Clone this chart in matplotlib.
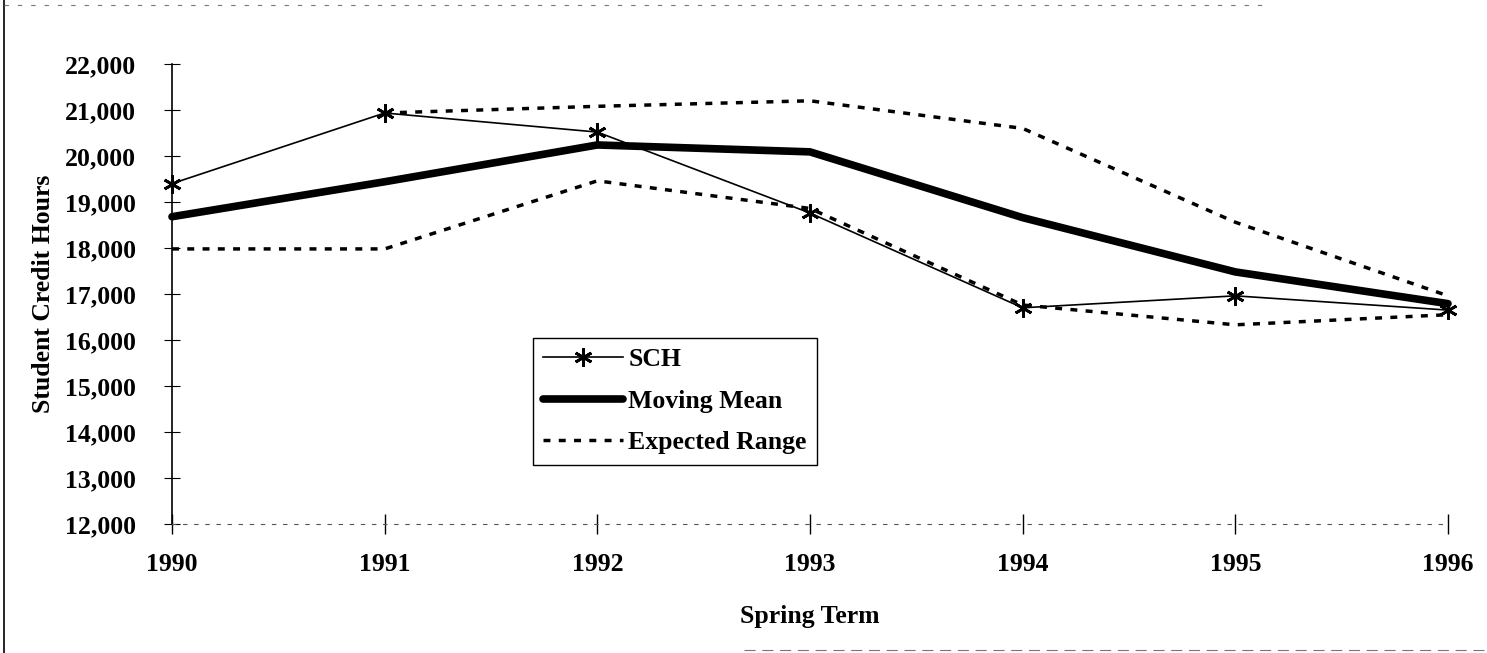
import matplotlib
matplotlib.use('Agg')
import matplotlib.pyplot as plt
from matplotlib.lines import Line2D
import numpy as np

# values
years = [1990, 1991, 1992, 1993, 1994, 1995, 1996]
sch = [19400, 20935, 20520, 18760, 16700, 16960, 16650]
moving_mean = [18680, 19440, 20240, 20090, 18660, 17480, 16790]
range_upper = [np.nan, 20935, 21080, 21200, 20600, 18560, 16960]
range_lower = [17980, 17980, 19460, 18860, 16760, 16330, 16550]

y_ticks = [12000, 13000, 14000, 15000, 16000, 17000, 18000, 19000, 20000, 21000, 22000]
y_tick_labels = ['{:,}'.format(v) for v in y_ticks]

plt.rcParams['font.family'] = ['Liberation Serif', 'DejaVu Serif']
plt.rcParams['font.weight'] = 'bold'
fs = 18.5

fig = plt.figure(figsize=(14.87, 6.53), dpi=100)
ax = fig.add_axes([172 / 1487, 1 - 524 / 653, 1276 / 1487, 460 / 653])

dash = (0, (2, 2.4))
ax.plot(years, sch, color='black', lw=1.2, marker=(6, 2, 0), markersize=13,
        markeredgewidth=2.0, label='SCH', clip_on=False, zorder=4)
ax.plot(years, moving_mean, color='black', lw=5.5, solid_capstyle='round',
        label='Moving Mean', clip_on=False, zorder=3)
ax.plot(years, range_upper, color='black', lw=2.5, linestyle=dash,
        label='Expected Range', clip_on=False, zorder=2)
ax.plot(years, range_lower, color='black', lw=2.5, linestyle=dash,
        clip_on=False, zorder=2)

ax.set_xlim(1990, 1996)
ax.set_ylim(12000, 22000)
ax.set_xticks(years)
ax.set_xticklabels([str(y) for y in years], fontsize=fs, fontweight='bold')
ax.set_yticks(y_ticks)
ax.set_yticklabels(y_tick_labels, fontsize=fs, fontweight='bold')

ax.tick_params(axis='x', direction='inout', length=14, width=1.0, pad=14)
ax.tick_params(axis='y', direction='inout', length=12, width=0.8, pad=20)

for side in ['top', 'right']:
    ax.spines[side].set_visible(False)
ax.spines['left'].set_linewidth(1.2)
ax.spines['bottom'].set_linewidth(0.8)
ax.spines['bottom'].set_color('#555555')
ax.spines['bottom'].set_linestyle((0, (3, 7)))

ax.set_xlabel('Spring Term', fontsize=fs, fontweight='bold', labelpad=21)
ax.set_ylabel('Student Credit Hours', fontsize=fs, fontweight='bold', labelpad=7)

leg = ax.legend(loc='upper left', bbox_to_anchor=(0.283, 0.404), borderaxespad=0,
                frameon=True, fancybox=False, edgecolor='black',
                framealpha=1, handlelength=3.1, handletextpad=0.2,
                labelspacing=0.72, borderpad=0.4, numpoints=1,
                prop={'weight': 'bold', 'size': fs})
leg.get_frame().set_linewidth(1.0)

# scanned page frame
fig.add_artist(Line2D([0.003, 0.003], [0.0, 1.0], color='black', lw=1.2))
fig.add_artist(Line2D([0.003, 0.85], [0.992, 0.992], color='#777777', lw=0.8,
                      linestyle=(0, (4, 8))))
fig.add_artist(Line2D([0.5, 1.0], [0.004, 0.004], color='#777777', lw=0.8,
                      linestyle=(0, (10, 6))))

fig.savefig('out.png', dpi=100)
